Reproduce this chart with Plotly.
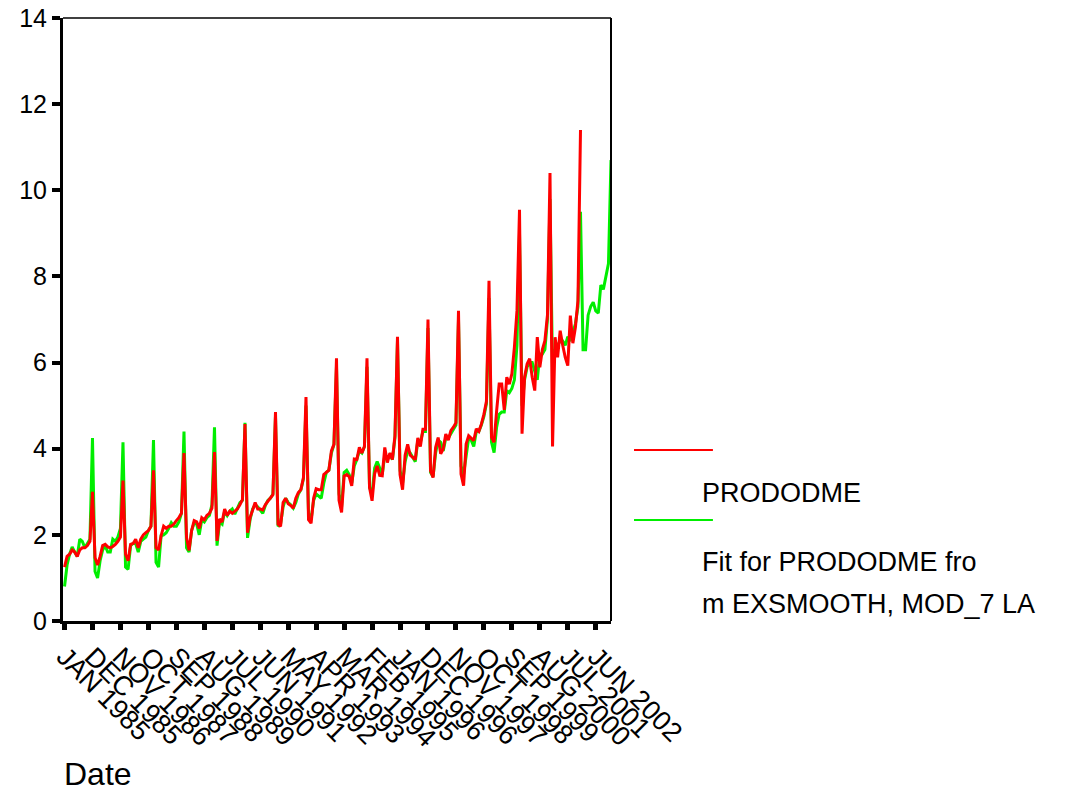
import plotly.graph_objects as go

MONTHS = ["JAN", "FEB", "MAR", "APR", "MAY", "JUN", "JUL", "AUG", "SEP", "OCT", "NOV", "DEC"]
years = list(range(1985, 2003))
dates = [f"{m} {y}" for y in years for m in MONTHS]  # JAN 1985 .. DEC 2002

prododme = [
    1.25, 1.5, 1.55, 1.65, 1.6, 1.5, 1.65, 1.7, 1.7, 1.75, 1.85, 3.0,
    1.47, 1.3, 1.5, 1.75, 1.78, 1.72, 1.7, 1.73, 1.78, 1.85, 1.95, 3.26,
    1.55, 1.4, 1.78, 1.8, 1.9, 1.7, 1.9, 2.0, 2.05, 2.1, 2.2, 3.5,
    1.7, 1.65, 1.98, 2.2, 2.15, 2.2, 2.2, 2.25, 2.33, 2.4, 2.5, 3.9,
    1.94, 1.64, 2.1, 2.33, 2.3, 2.15, 2.4, 2.35, 2.45, 2.5, 2.62, 3.92,
    1.86, 2.37, 2.3, 2.6, 2.45, 2.55, 2.5, 2.55, 2.6, 2.7, 2.82, 4.57,
    2.05, 2.4, 2.6, 2.75, 2.6, 2.6, 2.58, 2.7, 2.78, 2.85, 2.93, 4.85,
    2.25, 2.2, 2.75, 2.85, 2.72, 2.68, 2.62, 2.85, 2.98, 3.05, 3.33, 5.2,
    2.35, 2.27, 2.85, 3.07, 3.05, 3.05, 3.4, 3.45, 3.5, 3.95, 4.1, 6.1,
    2.8, 2.52, 3.37, 3.4, 3.35, 3.14, 3.76, 3.75, 4.03, 3.9, 4.05, 6.1,
    3.1, 2.79, 3.42, 3.6, 3.38, 3.37, 4.03, 3.68, 3.9, 3.75, 4.3, 6.6,
    3.4, 3.05, 3.85, 4.1, 3.85, 3.8, 3.75, 4.25, 4.05, 4.45, 4.45, 7.0,
    3.49, 3.33, 4.03, 4.26, 3.88, 4.0, 4.34, 4.2, 4.42, 4.5, 4.6, 7.2,
    3.41, 3.14, 4.11, 4.3, 4.25, 4.19, 4.46, 4.4, 4.57, 4.8, 5.1, 7.9,
    4.26, 4.15, 4.88, 5.5, 5.5, 4.9, 5.66, 5.5, 5.74, 6.36, 7.2, 9.55,
    4.35, 5.66, 5.97, 6.09, 5.66, 5.35, 6.59, 5.89, 6.3, 6.51, 7.1, 10.4,
    4.05, 6.59, 6.12, 6.74, 6.4, 6.12, 5.93, 7.09, 6.45, 6.82, 7.44, 11.4,
]

fit = [
    0.8, 1.3, 1.55, 1.72, 1.6, 1.5, 1.9, 1.85, 1.7, 1.8, 1.9, 4.25,
    1.15, 1.0, 1.4, 1.65, 1.75, 1.6, 1.6, 1.9, 1.85, 1.95, 2.15, 4.15,
    1.25, 1.2, 1.75, 1.8, 1.8, 1.6, 1.85, 1.9, 1.95, 2.1, 2.2, 4.2,
    1.36, 1.25, 1.98, 2.0, 2.05, 2.15, 2.28, 2.2, 2.2, 2.3, 2.5, 4.4,
    1.7, 1.6, 2.1, 2.28, 2.25, 2.0, 2.35, 2.3, 2.4, 2.45, 2.7, 4.5,
    1.75, 2.3, 2.25, 2.55, 2.45, 2.55, 2.6, 2.48, 2.6, 2.75, 2.8, 4.6,
    1.93, 2.35, 2.6, 2.7, 2.65, 2.58, 2.5, 2.68, 2.8, 2.85, 2.95, 4.75,
    2.2, 2.25, 2.65, 2.85, 2.75, 2.7, 2.62, 2.75, 2.95, 3.05, 3.3, 5.0,
    2.5, 2.35, 2.8, 2.95, 2.9, 2.85, 3.2, 3.45, 3.5, 3.9, 4.1, 5.9,
    2.95, 2.65, 3.45, 3.5, 3.4, 3.2, 3.6, 3.75, 3.95, 3.9, 4.05, 5.9,
    3.1, 2.95, 3.55, 3.7, 3.55, 3.4, 3.85, 3.75, 3.85, 3.75, 4.25, 6.5,
    3.5, 3.2, 3.7, 3.95, 3.9, 3.8, 3.7, 4.2, 4.15, 4.4, 4.4, 6.8,
    3.45, 3.35, 3.9, 4.2, 4.15, 3.95, 4.25, 4.25, 4.35, 4.45, 4.55, 7.0,
    3.6, 3.4, 3.8, 4.25, 4.2, 4.05, 4.4, 4.4, 4.55, 4.75, 5.05, 7.5,
    4.15, 3.91, 4.5, 4.8, 4.85, 4.85, 5.35, 5.3, 5.4, 5.6, 6.4, 9.0,
    5.0, 5.6, 5.9, 6.0, 6.0, 5.8, 5.6, 6.2, 6.2, 6.3, 7.0, 9.8,
    5.8, 6.3, 6.4, 6.5, 6.5, 6.4, 6.6, 6.5, 6.7, 6.9, 7.3, 9.5,
    6.3, 6.3, 7.1, 7.3, 7.4, 7.2, 7.15, 7.8, 7.7, 8.0, 8.3, 10.7,
]

tick_labels = dates[0:210:11]  # JAN 1985, DEC 1985, ... JUN 2002
y_ticks = [0, 2, 4, 6, 8, 10, 12, 14]

series_names = ["PRODODME", "Fit for PRODODME from EXSMOOTH, MOD_7 LA"]
RED = "#ff0000"
GREEN = "#00ee00"
FONT = "Liberation Sans, Arial, sans-serif"

fig = go.Figure()
fig.add_trace(go.Scatter(x=dates[:len(fit)], y=fit, mode="lines",
                         line=dict(color=GREEN, width=3), name=series_names[1],
                         showlegend=False))
fig.add_trace(go.Scatter(x=dates[:len(prododme)], y=prododme, mode="lines",
                         line=dict(color=RED, width=3), name=series_names[0],
                         showlegend=False))

fig.update_layout(
    width=1082, height=794,
    margin=dict(l=63, r=471, t=18, b=173, autoexpand=False),
    paper_bgcolor="white", plot_bgcolor="white",
    font=dict(family=FONT, size=22, color="black"),
    xaxis=dict(
        type="category", categoryorder="array", categoryarray=dates,
        range=[-0.6, len(dates) - 1], automargin=False,
        tickmode="array", tickvals=tick_labels, ticktext=tick_labels,
        tickangle=45, ticks="outside", ticklen=6, tickwidth=5, tickcolor="black",
        showgrid=False, zeroline=False, ticklabeloverflow="allow",
        showline=True, linecolor="black", linewidth=3,
        tickfont=dict(size=27, family=FONT),
    ),
    yaxis=dict(
        range=[0, 14], tickmode="array", tickvals=y_ticks, automargin=False,
        ticks="outside", ticklen=8, tickwidth=4, tickcolor="black",
        showgrid=False, zeroline=False, ticklabeloverflow="allow",
        showline=True, linecolor="black", linewidth=3,
        tickfont=dict(size=25, family=FONT),
    ),
)

# thin frame on top and right
fig.add_shape(type="line", xref="paper", yref="paper", x0=0, x1=1, y0=1, y1=1,
              line=dict(color="black", width=1.5))
fig.add_shape(type="line", xref="paper", yref="paper", x0=1, x1=1, y0=0, y1=1,
              line=dict(color="black", width=2))

# legend drawn manually
fig.add_shape(type="line", xref="paper", yref="paper", x0=1.042, x1=1.186,
              y0=0.2836, y1=0.2836, line=dict(color=RED, width=2))
fig.add_shape(type="line", xref="paper", yref="paper", x0=1.042, x1=1.186,
              y0=0.1675, y1=0.1675, line=dict(color=GREEN, width=2))
leg_text = [("PRODODME", 0.212), ("Fit for PRODODME fro", 0.098),
            ("m EXSMOOTH, MOD_7 LA", 0.028)]
for txt, yy in leg_text:
    fig.add_annotation(text=txt, xref="paper", yref="paper", x=1.165, y=yy,
                       xanchor="left", yanchor="middle", showarrow=False,
                       borderpad=0,
                       font=dict(size=27, family=FONT, color="black"))

fig.add_annotation(text="Date", xref="paper", yref="paper", x=0.0, y=-0.285,
                   xanchor="left", yanchor="bottom", showarrow=False,
                   borderpad=0,
                   font=dict(size=32, family=FONT, color="black"))

fig.write_html(
    "out.html",
    config={"displayModeBar": False},
    post_script="document.body.style.margin='0';document.body.style.overflow='hidden';",
)
